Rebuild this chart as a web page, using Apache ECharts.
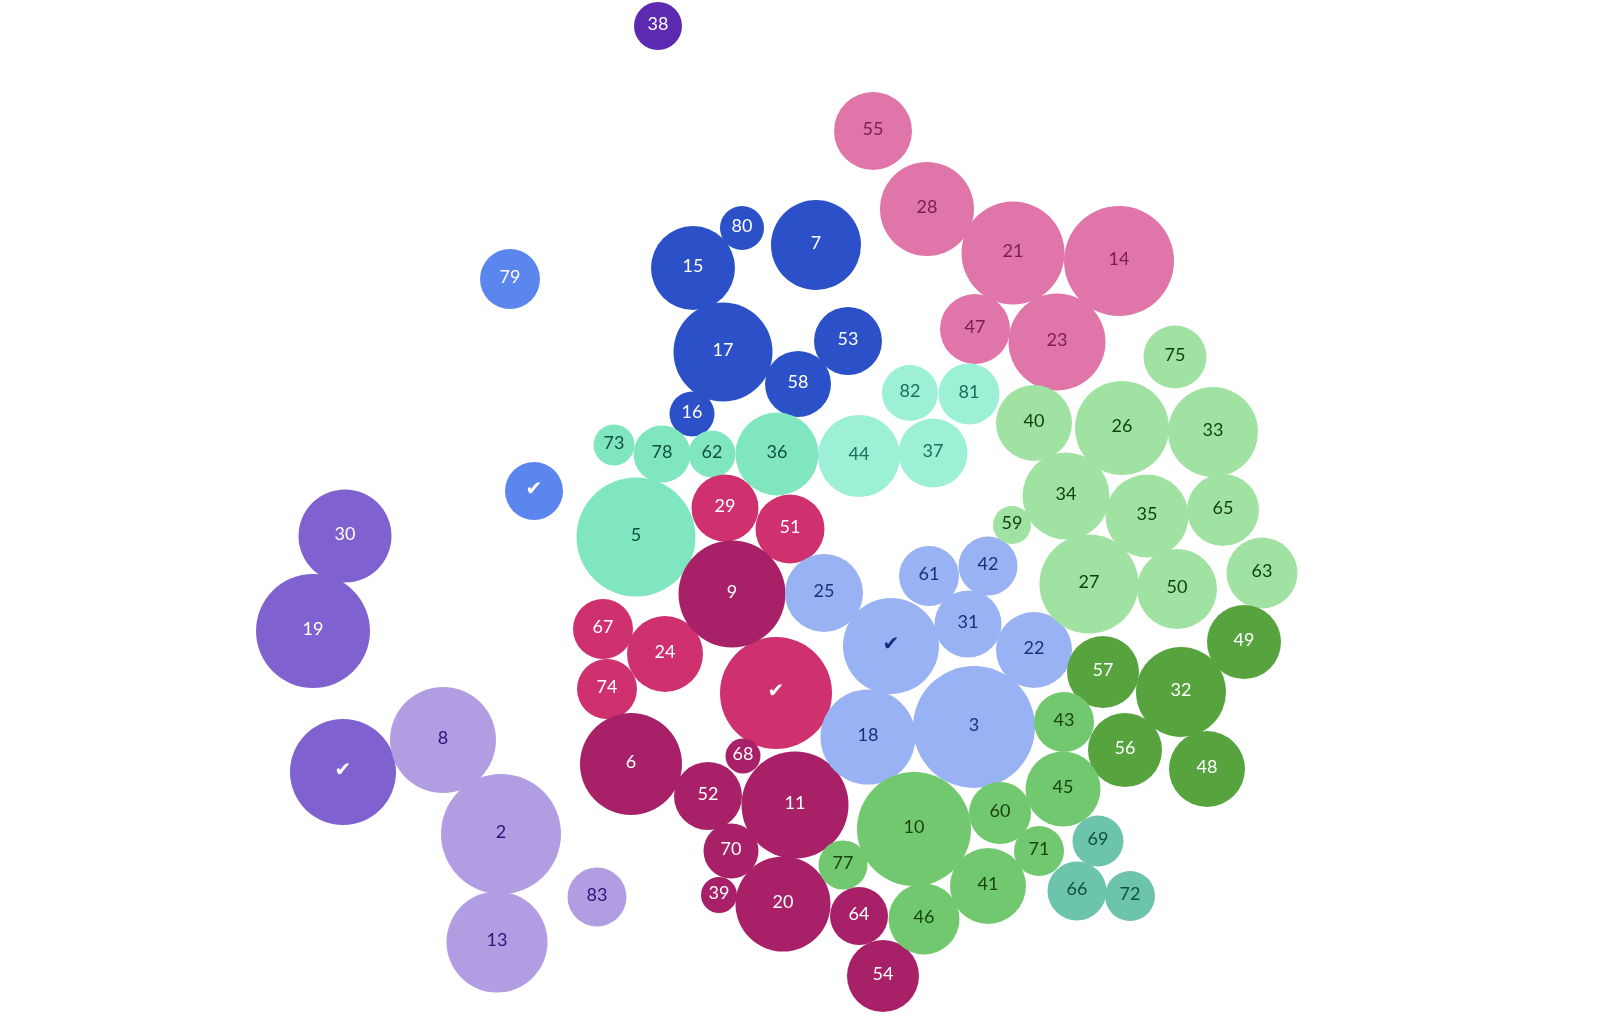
<!DOCTYPE html>
<html><head><meta charset="utf-8">
<style>html,body{margin:0;padding:0;background:#fff}#c{width:1600px;height:1014px}</style>
<script src="https://cdn.jsdelivr.net/npm/echarts@6/dist/echarts.min.js"></script>
</head><body><div id="c"></div>
<script>
const CHECK = '✔';
const labels = [30,19,CHECK, 8,2,13,83, 38, 79,CHECK, 15,80,7,17,53,58,16, 55,28,21,14,47,23, 82,81,44,37, 73,78,62,36,5, 29,51,67,24,74,CHECK, 9,6,68,52,11,70,39,20,64,54, 25,61,42,31,CHECK,22,18,3, 75,40,26,33,34,35,65,59,27,50,63, 57,32,49,56,48, 43,45,60,10,71,41,46,77, 69,66,72];
const xValues = [345,313,343, 443,501,497,597, 658, 510,534, 693,742,816,723,848,798,692, 873,927,1013,1119,975,1057, 910,969,859,933, 614,662,712,777,636, 725,790,603,665,607,776, 732,631,743,708,795,731,719,783,859,883, 824,929,988,968,891,1034,868,974, 1175,1034,1122,1213,1066,1147,1223,1012,1089,1177,1262, 1103,1181,1244,1125,1207, 1064,1063,1000,914,1039,988,924,843, 1098,1077,1130];
const yValues = [536,631,772, 740,834,942,897, 26, 279,491, 268,228,245,352,341,384,414, 131,209,253,261,329,342, 393,394,456,453, 445,454,454,454,537, 508,529,629,654,689,693, 594,764,756,796,805,851,895,904,916,976, 593,576,566,624,646,650,737,727, 357,423,428,432,496,516,510,525,584,589,573, 672,692,642,750,769, 722,789,813,829,851,886,919,865, 841,891,896];
const radii = [46.5,57,53, 53,60,50.5,29.5, 24, 30,29, 42,22,45,49.5,34,33,22.5, 39,47,51.5,55,35,48.5, 28,30.5,41,34.5, 20.5,28.5,23.5,41.5,59.5, 33.5,34.5,30,38,30,56, 53.5,51,17.5,34,53.5,27.5,18,47.5,29,36, 39,30,29.5,33.5,48,38,47.5,61, 31.5,38,47,45,43.5,41.5,36,19,49.5,40,35.5, 36,45,37,37,38, 30,37.5,31,57,25,38,35.5,24.5, 25.5,29.5,25];
const groupSizes = [3,4,1,2,7,6,4,5,6,10,8,11,5,8,3];
const fillColors = ['#7F62D0','#B19DE2','#5B2AB0','#5A86EE','#2B50C8','#DF75A8','#9CF0D5','#80E6C0','#CF316F','#A82068','#98B2F3','#A0E2A2','#57A43F','#72C86E','#6CC4AC'];
const textColors = ['#ffffff','#2E1478','#ffffff','#ffffff','#ffffff','#7E1A55','#1B6F5A','#10503E','#ffffff','#ffffff','#18307F','#0F3F0C','#ffffff','#174510','#0F5040'];

const rows = labels.map((l,i)=>({
  name:String(l),
  value:[xValues[i],yValues[i],radii[i]],
  label: l===CHECK ? {fontSize:20,fontFamily:'"DejaVu Sans", sans-serif'} : undefined
}));
let start = 0;
const series = groupSizes.map((n,g)=>{
  const data = rows.slice(start,start+n); start += n;
  return {
    type:'scatter', data, clip:false, silent:true,
    symbol:'circle', symbolSize:v=>v[2]*2,
    itemStyle:{color:fillColors[g],opacity:1},
    label:{show:true,position:'inside',offset:[0,-1.5],formatter:p=>p.name,color:textColors[g],
      fontFamily:'Lato, "DejaVu Sans", sans-serif',fontSize:18,fontWeight:400}
  };
});
const chart = echarts.init(document.getElementById('c'),null,{renderer:'canvas'});
chart.setOption({
  animation:false, backgroundColor:'#ffffff',
  grid:{left:0,right:0,top:0,bottom:0},
  xAxis:{type:'value',min:0,max:1600,show:false},
  yAxis:{type:'value',min:0,max:1014,inverse:true,show:false},
  series
});
</script></body></html>
